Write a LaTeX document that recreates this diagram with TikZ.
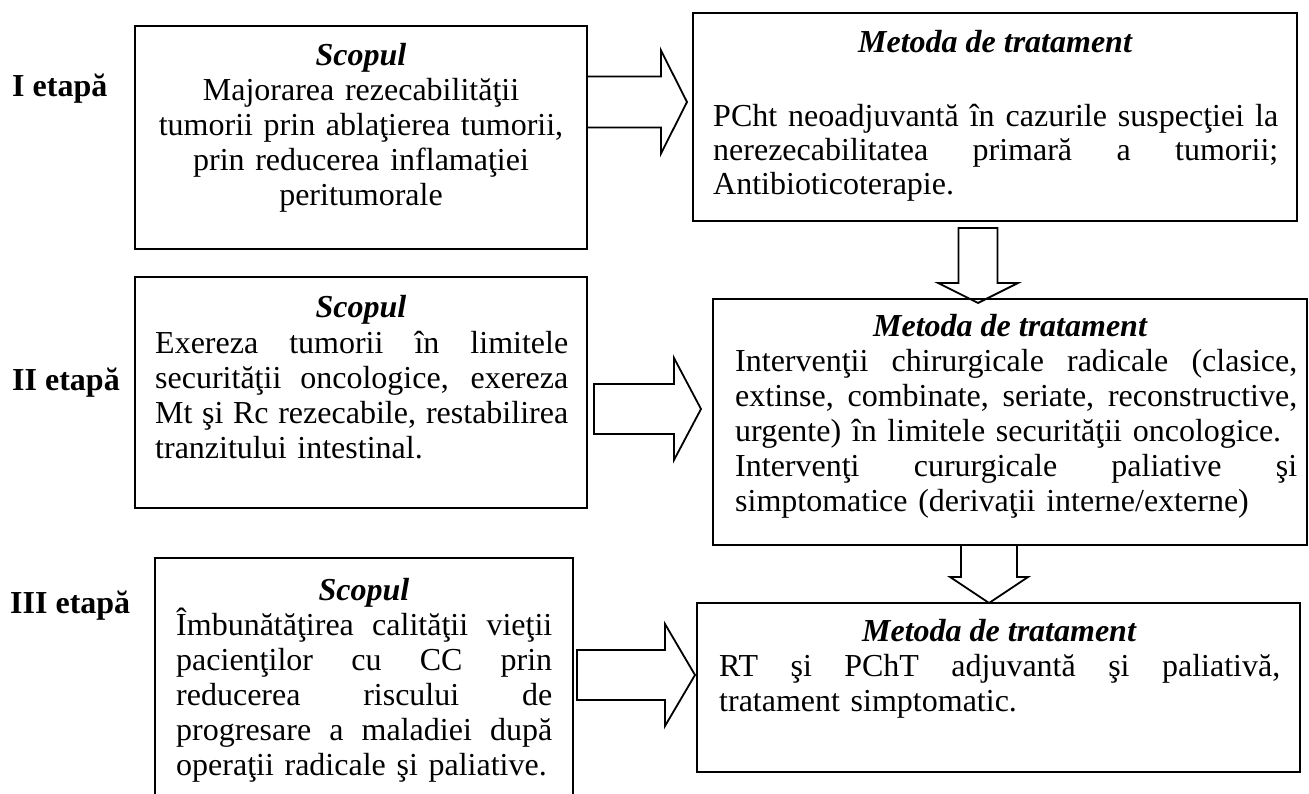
\documentclass[tikz,border=0pt]{standalone}
\usepackage{fontspec}
\setmainfont{Liberation Serif}
\usetikzlibrary{calc}
\newcommand{\rarr}[5]{% start, tip, half shaft, half head, head length
\draw[blk] let \p1=(#1), \p2=(#2) in (\x1,\y2+#3)--(\x2-#5,\y2+#3)--(\x2-#5,\y2+#4)--(\x2,\y2)
  --(\x2-#5,\y2-#4)--(\x2-#5,\y2-#3)--(\x1,\y2-#3)--cycle;}
\newcommand{\darr}[5]{%
\draw[blk] let \p1=(#1), \p2=(#2) in (\x2-#3,\y1)--(\x2-#3,\y2+#5)--(\x2-#4,\y2+#5)--(\x2,\y2)
  --(\x2+#4,\y2+#5)--(\x2+#3,\y2+#5)--(\x2+#3,\y1)--cycle;}
% one justified line of width #1
\newcommand{\jl}[2]{\leavevmode\hbox to #1pt{\spaceskip=0pt\relax\xspaceskip=0pt\relax #2}\\}
\begin{document}
\begin{tikzpicture}[x=1pt,y=-1pt,line join=miter,
  box/.style={draw,line width=1.8pt,inner sep=0pt,outer sep=0pt,anchor=north west},
  blk/.style={draw,line width=1.8pt},
  hd/.style={inner sep=0pt,anchor=base,font=\fontsize{32}{35}\selectfont\bfseries\itshape},
  bodyc/.style={inner sep=0pt,anchor=base,align=center,font=\fontsize{32}{35}\selectfont},
  bodyj/.style={inner sep=0pt,anchor=base west,align=left,font=\fontsize{32}{35}\selectfont},
  bodyjn/.style={bodyj,font=\fontsize{32}{34}\selectfont},
  lbl/.style={inner sep=0pt,anchor=base west,font=\fontsize{32}{35}\selectfont\bfseries}]
\useasboundingbox (0,0) rectangle (1309,794);
% stage labels
\node[lbl] (e1) at (12,97) {I etapă};
\node[lbl] (e2) at (12,390) {II etapă};
\node[lbl] (e3) at (10,613) {III etapă};
% scopul boxes
\node[box,minimum width=452pt,minimum height=223pt] (s1) at (135,26) {};
\node[hd] (s1h) at (361,66) {Scopul};
\node[bodyc,text width=440pt] (s1b) at (361,101) {Majorarea rezecabilităţii\\
  tumorii prin ablaţierea tumorii,\\ prin reducerea inflamaţiei\\ peritumorale};
\node[box,minimum width=452pt,minimum height=231pt] (s2) at (135,277) {};
\node[hd] (s2h) at (361,318) {Scopul};
\node[bodyj,text width=413pt] (s2b) at (155,353) {\jl{413}{Exereza tumorii în limitele}
  \jl{413}{securităţii oncologice, exereza}\jl{413}{Mt şi Rc rezecabile, restabilirea}
  tranzitului intestinal.};
\node[box,minimum width=418pt,minimum height=260pt] (s3) at (155,558) {};
\node[hd] (s3h) at (364,600) {Scopul};
\node[bodyj,text width=376pt] (s3b) at (176,635) {\jl{376}{Îmbunătăţirea calităţii vieţii}
  \jl{376}{pacienţilor cu CC prin}\jl{376}{reducerea riscului de}
  \jl{376}{progresare a maladiei după}operaţii radicale şi paliative.};
% metoda boxes
\node[box,minimum width=604pt,minimum height=208pt] (m1) at (693,13) {};
\node[hd] (m1h) at (995,53) {Metoda de tratament};
\node[bodyjn,text width=565pt] (m1b) at (713,127) {\jl{565}{PCht neoadjuvantă în cazurile suspecţiei la}
  \jl{565}{nerezecabilitatea primară a tumorii;}Antibioticoterapie.};
\node[box,minimum width=594pt,minimum height=246pt] (m2) at (713,299) {};
\node[hd] (m2h) at (1010,336) {Metoda de tratament};
\node[bodyj,text width=562pt] (m2b) at (735,371) {\jl{562}{Intervenţii chirurgicale radicale (clasice,}
  \jl{562}{extinse, combinate, seriate, reconstructive,}urgente) în limitele securităţii oncologice.\\
  \jl{562}{Intervenţi cururgicale paliative şi}simptomatice (derivaţii interne/externe)};
\node[box,minimum width=603pt,minimum height=169pt] (m3) at (697,603) {};
\node[hd] (m3h) at (999,641) {Metoda de tratament};
\node[bodyj,text width=561pt] (m3b) at (719,676) {\jl{561}{RT şi PChT adjuvantă şi paliativă,}
  tratament simptomatic.};
% block arrows
\coordinate (t1) at (687,102);
\coordinate (t2) at (701,409);
\coordinate (t3) at (695,675);
\coordinate (t4) at (978,303);
\coordinate (t5) at (989,603);
\rarr{s1.east |- t1}{t1}{25.5pt}{51.5pt}{26pt}
\rarr{$(s2.east |- t2)+(7,0)$}{t2}{25pt}{51pt}{27pt}
\rarr{$(s3.east |- t3)+(4,0)$}{t3}{25pt}{51pt}{30pt}
\darr{$(m1.south -| t4)+(0,7)$}{t4}{19.5pt}{40pt}{20pt}
\darr{m2.south -| t5}{t5}{28pt}{39pt}{26pt}
\end{tikzpicture}
\end{document}
